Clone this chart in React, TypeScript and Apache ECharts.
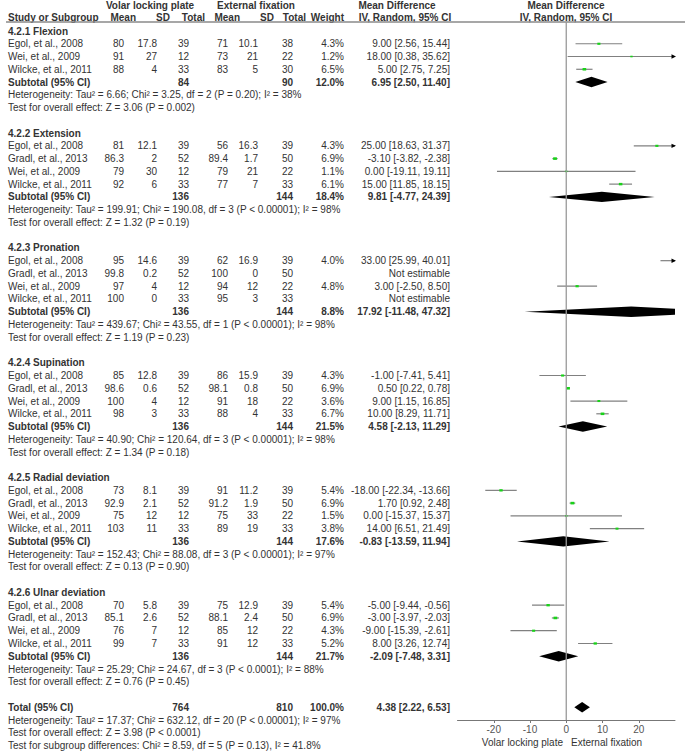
import React, { useEffect, useRef } from 'react';
import * as echarts from 'echarts';

// ---------------- data ----------------
const subgroupTitles = [
  '4.2.1 Flexion',
  '4.2.2 Extension',
  '4.2.3 Pronation',
  '4.2.4 Supination',
  '4.2.5 Radial deviation',
  '4.2.6 Ulnar deviation',
];

// [study, mean1, sd1, n1, mean2, sd2, n2, weight%, MD, lo, hi]
const flexionStudies: any[][] = [
  ['Egol, et al., 2008', 80, 17.8, 39, 71, 10.1, 38, 4.3, 9.0, 2.56, 15.44],
  ['Wei, et al., 2009', 91, 27, 12, 73, 21, 22, 1.2, 18.0, 0.38, 35.62],
  ['Wilcke, et al., 2011', 88, 4, 33, 83, 5, 30, 6.5, 5.0, 2.75, 7.25],
];
const extensionStudies: any[][] = [
  ['Egol, et al., 2008', 81, 12.1, 39, 56, 16.3, 39, 4.3, 25.0, 18.63, 31.37],
  ['Gradl, et al., 2013', 86.3, 2, 52, 89.4, 1.7, 50, 6.9, -3.1, -3.82, -2.38],
  ['Wei, et al., 2009', 79, 30, 12, 79, 21, 22, 1.1, 0.0, -19.11, 19.11],
  ['Wilcke, et al., 2011', 92, 6, 33, 77, 7, 33, 6.1, 15.0, 11.85, 18.15],
];
const pronationStudies: any[][] = [
  ['Egol, et al., 2008', 95, 14.6, 39, 62, 16.9, 39, 4.0, 33.0, 25.99, 40.01],
  ['Gradl, et al., 2013', 99.8, 0.2, 52, 100, 0, 50, null, null, null, null],
  ['Wei, et al., 2009', 97, 4, 12, 94, 12, 22, 4.8, 3.0, -2.5, 8.5],
  ['Wilcke, et al., 2011', 100, 0, 33, 95, 3, 33, null, null, null, null],
];
const supinationStudies: any[][] = [
  ['Egol, et al., 2008', 85, 12.8, 39, 86, 15.9, 39, 4.3, -1.0, -7.41, 5.41],
  ['Gradl, et al., 2013', 98.6, 0.6, 52, 98.1, 0.8, 50, 6.9, 0.5, 0.22, 0.78],
  ['Wei, et al., 2009', 100, 4, 12, 91, 18, 22, 3.6, 9.0, 1.15, 16.85],
  ['Wilcke, et al., 2011', 98, 3, 33, 88, 4, 33, 6.7, 10.0, 8.29, 11.71],
];
const radialStudies: any[][] = [
  ['Egol, et al., 2008', 73, 8.1, 39, 91, 11.2, 39, 5.4, -18.0, -22.34, -13.66],
  ['Gradl, et al., 2013', 92.9, 2.1, 52, 91.2, 1.9, 50, 6.9, 1.7, 0.92, 2.48],
  ['Wei, et al., 2009', 75, 12, 12, 75, 33, 22, 1.5, 0.0, -15.37, 15.37],
  ['Wilcke, et al., 2011', 103, 11, 33, 89, 19, 33, 3.8, 14.0, 6.51, 21.49],
];
const ulnarStudies: any[][] = [
  ['Egol, et al., 2008', 70, 5.8, 39, 75, 12.9, 39, 5.4, -5.0, -9.44, -0.56],
  ['Gradl, et al., 2013', 85.1, 2.6, 52, 88.1, 2.4, 50, 6.9, -3.0, -3.97, -2.03],
  ['Wei, et al., 2009', 76, 7, 12, 85, 12, 22, 4.3, -9.0, -15.39, -2.61],
  ['Wilcke, et al., 2011', 99, 7, 33, 91, 12, 33, 5.2, 8.0, 3.26, 12.74],
];
const subgroupStudies = [flexionStudies, extensionStudies, pronationStudies, supinationStudies, radialStudies, ulnarStudies];

// [n1, n2, weight%, MD, lo, hi]
const subtotals = [
  [84, 90, 12.0, 6.95, 2.5, 11.4],
  [136, 144, 18.4, 9.81, -4.77, 24.39],
  [136, 144, 8.8, 17.92, -11.48, 47.32],
  [136, 144, 21.5, 4.58, -2.13, 11.29],
  [136, 144, 17.6, -0.83, -13.59, 11.94],
  [136, 144, 21.7, -2.09, -7.48, 3.31],
];
const heterogeneityTexts = [
  'Heterogeneity: Tau² = 6.66; Chi² = 3.25, df = 2 (P = 0.20); I² = 38%',
  'Heterogeneity: Tau² = 199.91; Chi² = 190.08, df = 3 (P < 0.00001); I² = 98%',
  'Heterogeneity: Tau² = 439.67; Chi² = 43.55, df = 1 (P < 0.00001); I² = 98%',
  'Heterogeneity: Tau² = 40.90; Chi² = 120.64, df = 3 (P < 0.00001); I² = 98%',
  'Heterogeneity: Tau² = 152.43; Chi² = 88.08, df = 3 (P < 0.00001); I² = 97%',
  'Heterogeneity: Tau² = 25.29; Chi² = 24.67, df = 3 (P < 0.0001); I² = 88%',
];
const overallEffectTexts = [
  'Test for overall effect: Z = 3.06 (P = 0.002)',
  'Test for overall effect: Z = 1.32 (P = 0.19)',
  'Test for overall effect: Z = 1.19 (P = 0.23)',
  'Test for overall effect: Z = 1.34 (P = 0.18)',
  'Test for overall effect: Z = 0.13 (P = 0.90)',
  'Test for overall effect: Z = 0.76 (P = 0.45)',
];
const totalRow = [764, 810, 100.0, 4.38, 2.22, 6.53];
const totalHeterogeneity = 'Heterogeneity: Tau² = 17.37; Chi² = 632.12, df = 20 (P < 0.00001); I² = 97%';
const totalEffect = 'Test for overall effect: Z = 3.98 (P < 0.0001)';
const subgroupDifferences = 'Test for subgroup differences: Chi² = 8.59, df = 5 (P = 0.13), I² = 41.8%';
const groupHeaders = ['Volar locking plate', 'External fixation'];
const columnHeaders = ['Mean', 'SD', 'Total', 'Mean', 'SD', 'Total', 'Weight'];
const tickValues = [-20, -10, 0, 10, 20];
const axisLeftLabel = 'Volar locking plate';
const axisRightLabel = 'External fixation';

// ---------------- layout ----------------
const W = 685;
const H = 754;
const ROW_H = 12.76;
const ROW0_Y = 31;
const AXIS_Y = 720;
const RULE_Y = 22;
const X_MIN = -30;
const X_MAX = 30;
const PLOT_LEFT = 457.5;
const PLOT_W = 217.5;
const NAME_X = 8;
const VALUE_RIGHT = [124, 157, 189, 228, 258, 293, 344];
const HEADER_RIGHT = [136, 170, 205, 240, 274, 306, 344];
const MD_RIGHT = 450;
const FONT = "'Liberation Sans', Arial, sans-serif";
const TEXT_COLOR = '#333';
const CI_COLOR = '#808080';
const SQ_COLOR = '#19d219';
const rowOfPx = (py: number) => (py - ROW0_Y) / ROW_H;

type TItem = { x: number; row: number; t: string; align: string; bold?: boolean };

const fmt2 = (v: number) => v.toFixed(2);
const ciText = (m: number, l: number, h: number) => `${fmt2(m)} [${fmt2(l)}, ${fmt2(h)}]`;

function buildLayout() {
  const texts: TItem[] = [];
  const studies: any[] = [];
  const diamonds: any[] = [];
  // headers
  const r1 = rowOfPx(5.5);
  const r2 = rowOfPx(17);
  texts.push({ x: 150, row: r1, t: groupHeaders[0], align: 'center', bold: true });
  texts.push({ x: 256, row: r1, t: groupHeaders[1], align: 'center', bold: true });
  texts.push({ x: 397, row: r1, t: 'Mean Difference', align: 'center', bold: true });
  texts.push({ x: 566, row: r1, t: 'Mean Difference', align: 'center', bold: true });
  texts.push({ x: NAME_X, row: r2, t: 'Study or Subgroup', align: 'left', bold: true });
  columnHeaders.forEach((h, i) => texts.push({ x: HEADER_RIGHT[i], row: r2, t: h, align: 'right', bold: true }));
  texts.push({ x: 405, row: r2, t: 'IV, Random, 95% CI', align: 'center', bold: true });
  texts.push({ x: 566, row: r2, t: 'IV, Random, 95% CI', align: 'center', bold: true });

  let r = 0;
  subgroupTitles.forEach((title, g) => {
    texts.push({ x: NAME_X, row: r, t: title, align: 'left', bold: true });
    subgroupStudies[g].forEach((s) => {
      r += 1;
      texts.push({ x: NAME_X, row: r, t: s[0], align: 'left' });
      for (let i = 0; i < 6; i++) texts.push({ x: VALUE_RIGHT[i], row: r, t: String(s[i + 1]), align: 'right' });
      if (s[7] != null) {
        texts.push({ x: VALUE_RIGHT[6], row: r, t: s[7].toFixed(1) + '%', align: 'right' });
        texts.push({ x: MD_RIGHT, row: r, t: ciText(s[8], s[9], s[10]), align: 'right' });
        studies.push({ row: r, md: s[8], lo: s[9], hi: s[10], w: s[7] });
      } else {
        texts.push({ x: MD_RIGHT, row: r, t: 'Not estimable', align: 'right' });
      }
    });
    r += 1;
    const st = subtotals[g];
    texts.push({ x: NAME_X, row: r, t: 'Subtotal (95% CI)', align: 'left', bold: true });
    texts.push({ x: VALUE_RIGHT[2], row: r, t: String(st[0]), align: 'right', bold: true });
    texts.push({ x: VALUE_RIGHT[5], row: r, t: String(st[1]), align: 'right', bold: true });
    texts.push({ x: VALUE_RIGHT[6], row: r, t: st[2].toFixed(1) + '%', align: 'right', bold: true });
    texts.push({ x: MD_RIGHT, row: r, t: ciText(st[3], st[4], st[5]), align: 'right', bold: true });
    diamonds.push({ row: r, md: st[3], lo: st[4], hi: st[5] });
    r += 1;
    texts.push({ x: NAME_X, row: r, t: heterogeneityTexts[g], align: 'left' });
    r += 1;
    texts.push({ x: NAME_X, row: r, t: overallEffectTexts[g], align: 'left' });
    r += 2;
  });
  texts.push({ x: NAME_X, row: r, t: 'Total (95% CI)', align: 'left', bold: true });
  texts.push({ x: VALUE_RIGHT[2], row: r, t: String(totalRow[0]), align: 'right', bold: true });
  texts.push({ x: VALUE_RIGHT[5], row: r, t: String(totalRow[1]), align: 'right', bold: true });
  texts.push({ x: VALUE_RIGHT[6], row: r, t: totalRow[2].toFixed(1) + '%', align: 'right', bold: true });
  texts.push({ x: MD_RIGHT, row: r, t: ciText(totalRow[3], totalRow[4], totalRow[5]), align: 'right', bold: true });
  diamonds.push({ row: r, md: totalRow[3], lo: totalRow[4], hi: totalRow[5] });
  texts.push({ x: NAME_X, row: r + 1, t: totalHeterogeneity, align: 'left' });
  texts.push({ x: NAME_X, row: r + 2, t: totalEffect, align: 'left' });
  texts.push({ x: NAME_X, row: r + 3, t: subgroupDifferences, align: 'left' });
  // axis side labels
  texts.push({ x: 563, row: rowOfPx(742), t: axisLeftLabel, align: 'right' });
  texts.push({ x: 571, row: rowOfPx(742), t: axisRightLabel, align: 'left' });
  return { texts, studies, diamonds };
}

function clipPolygon(pts: number[][], xmin: number, xmax: number) {
  const clipEdge = (input: number[][], inside: (p: number[]) => boolean, xEdge: number) => {
    const out: number[][] = [];
    for (let i = 0; i < input.length; i++) {
      const cur = input[i];
      const prev = input[(i + input.length - 1) % input.length];
      const cIn = inside(cur);
      const pIn = inside(prev);
      if (cIn) {
        if (!pIn) {
          const t = (xEdge - prev[0]) / (cur[0] - prev[0]);
          out.push([xEdge, prev[1] + t * (cur[1] - prev[1])]);
        }
        out.push(cur);
      } else if (pIn) {
        const t = (xEdge - prev[0]) / (cur[0] - prev[0]);
        out.push([xEdge, prev[1] + t * (cur[1] - prev[1])]);
      }
    }
    return out;
  };
  let res = clipEdge(pts, (p) => p[0] >= xmin, xmin);
  res = clipEdge(res, (p) => p[0] <= xmax, xmax);
  return res;
}

export default function App() {
  const ref = useRef<HTMLDivElement>(null);
  useEffect(() => {
    document.body.style.margin = '0';
    if (!ref.current) return;
    const chart = echarts.init(ref.current, undefined, { renderer: 'svg' });
    const { texts, studies, diamonds } = buildLayout();
    const yMin = rowOfPx(0);
    const yMax0 = rowOfPx(H);
    const yMax1 = rowOfPx(AXIS_Y);
    const ruleRow = rowOfPx(RULE_Y);

    const option: any = {
      animation: false,
      backgroundColor: '#fff',
      grid: [
        { left: 0, top: 0, width: W, height: H, containLabel: false, outerBoundsMode: 'none' },
        { left: PLOT_LEFT, top: 0, width: PLOT_W, height: AXIS_Y, containLabel: false, outerBoundsMode: 'none' },
      ],
      xAxis: [
        { gridIndex: 0, type: 'value', min: 0, max: W, show: false },
        {
          gridIndex: 1, type: 'value', min: X_MIN, max: X_MAX, interval: 10,
          axisLine: { show: true, onZero: false, lineStyle: { color: '#777', width: 1 } },
          axisTick: { show: true, length: 3, customValues: tickValues, lineStyle: { color: '#777' } },
          axisLabel: { customValues: tickValues, fontSize: 10, color: '#555', margin: 4, fontFamily: FONT },
          splitLine: { show: false },
        },
      ],
      yAxis: [
        { gridIndex: 0, type: 'value', min: yMin, max: yMax0, inverse: true, show: false },
        { gridIndex: 1, type: 'value', min: yMin, max: yMax1, inverse: true, show: false },
      ],
      series: [
        {
          type: 'line', xAxisIndex: 0, yAxisIndex: 0, symbol: 'none', silent: true,
          data: [[6, ruleRow], [W, ruleRow]],
          lineStyle: { color: '#8a8a8a', width: 1.3 },
        },
        {
          type: 'line', xAxisIndex: 1, yAxisIndex: 1, symbol: 'none', silent: true,
          data: [[0, ruleRow], [0, yMax1]],
          lineStyle: { color: '#999', width: 1.3 },
        },
        {
          type: 'custom', xAxisIndex: 1, yAxisIndex: 1, silent: true,
          data: studies.map((s) => [s.md, s.row]),
          renderItem: (params: any, api: any) => {
            const s = studies[params.dataIndex];
            const y = api.coord([0, s.row])[1];
            const xl = api.coord([Math.max(s.lo, X_MIN), s.row])[0];
            const xr = api.coord([Math.min(s.hi, X_MAX), s.row])[0];
            const children: any[] = [
              { type: 'line', shape: { x1: xl, y1: y, x2: xr, y2: y }, style: { stroke: CI_COLOR, lineWidth: 1.2 } },
            ];
            if (s.hi > X_MAX) {
              children.push({ type: 'polygon', shape: { points: [[xr + 1, y], [xr - 3.5, y - 2.2], [xr - 3.5, y + 2.2]] }, style: { fill: '#000' } });
            }
            if (s.lo < X_MIN) {
              children.push({ type: 'polygon', shape: { points: [[xl - 1, y], [xl + 3.5, y - 2.2], [xl + 3.5, y + 2.2]] }, style: { fill: '#000' } });
            }
            if (s.md >= X_MIN && s.md <= X_MAX) {
              const xm = api.coord([s.md, s.row])[0];
              const w = 2 + s.w * 0.25;
              const h = w * 0.7;
              children.push({ type: 'rect', shape: { x: xm - w / 2, y: y - h / 2, width: w, height: h }, style: { fill: SQ_COLOR } });
            }
            return { type: 'group', children };
          },
        },
        {
          type: 'custom', xAxisIndex: 1, yAxisIndex: 1, silent: true,
          data: diamonds.map((d) => [d.md, d.row]),
          renderItem: (params: any, api: any) => {
            const d = diamonds[params.dataIndex];
            const y = api.coord([0, d.row])[1];
            const xl = api.coord([d.lo, d.row])[0];
            const xm = api.coord([d.md, d.row])[0];
            const xr = api.coord([d.hi, d.row])[0];
            const bl = api.coord([X_MIN, d.row])[0];
            const br = api.coord([X_MAX, d.row])[0];
            const hh = 5.2;
            const pts = clipPolygon([[xl, y], [xm, y - hh], [xr, y], [xm, y + hh]], bl, br);
            return { type: 'polygon', shape: { points: pts }, style: { fill: '#000' } };
          },
        },
        {
          type: 'custom', xAxisIndex: 0, yAxisIndex: 0, silent: true,
          data: texts.map((t) => [t.x, t.row]),
          renderItem: (params: any, api: any) => {
            const t = texts[params.dataIndex];
            const p = api.coord([t.x, t.row]);
            return {
              type: 'text', x: p[0], y: p[1],
              style: {
                text: t.t, align: t.align, verticalAlign: 'middle',
                textAlign: t.align, textVerticalAlign: 'middle',
                fontSize: 10, fontFamily: FONT, fontWeight: t.bold ? 'bold' : 'normal', fill: TEXT_COLOR,
              },
            };
          },
        },
      ],
    };
    chart.setOption(option);
    return () => chart.dispose();
  }, []);
  return <div ref={ref} style={{ width: W, height: H }} />;
}
